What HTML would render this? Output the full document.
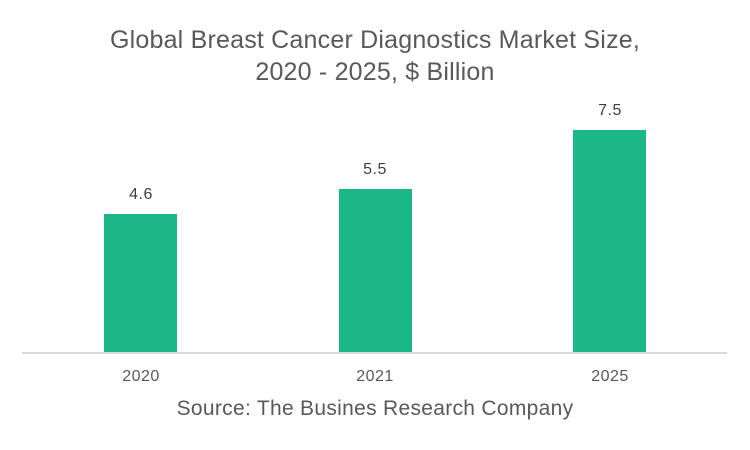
<!DOCTYPE html>
<html><head><style>
body{margin:0;width:750px;height:450px;background:#fff;font-family:"Liberation Sans",sans-serif;position:relative;overflow:hidden}
.t{position:absolute;left:0;width:750px;text-align:center;color:#595959;white-space:nowrap}
.bar{position:absolute;background:#1bb787;width:73px}
.v{position:absolute;width:100px;text-align:center;font-size:16px;color:#404040;letter-spacing:0.5px}
.x{position:absolute;width:100px;text-align:center;font-size:16px;color:#595959;top:368px;letter-spacing:0.5px}
</style></head><body>
<div class="t" style="top:24px;font-size:25px;line-height:32px;letter-spacing:0.2px">Global Breast Cancer Diagnostics Market Size,<br>2020 - 2025, $ Billion</div>
<div style="position:absolute;left:22px;width:705px;top:352px;height:2px;background:#d9d9d9"></div>
<div class="bar" style="left:104px;top:214px;height:138px"></div>
<div class="bar" style="left:339px;top:189px;height:163px"></div>
<div class="bar" style="left:573px;top:130px;height:222px"></div>
<div class="v" style="left:91px;top:186px">4.6</div>
<div class="v" style="left:325px;top:161px">5.5</div>
<div class="v" style="left:560px;top:102px">7.5</div>
<div class="x" style="left:91px">2020</div>
<div class="x" style="left:325px">2021</div>
<div class="x" style="left:560px">2025</div>
<div class="t" style="top:397px;font-size:21px;letter-spacing:0.3px">Source: The Busines Research Company</div>
</body></html>
